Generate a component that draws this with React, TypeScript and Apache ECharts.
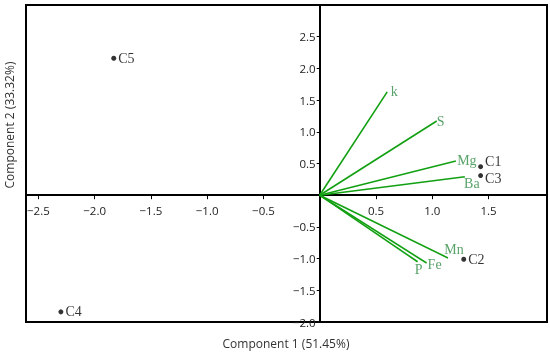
import React, { useEffect, useRef } from "react";
import * as echarts from "echarts";

const sampleNames = ["C1", "C2", "C3", "C4", "C5"];
const sampleX = [1.43, 1.28, 1.43, -2.3, -1.83];
const sampleY = [0.45, -1.01, 0.31, -1.84, 2.16];

const varNames = ["k", "S", "Mg", "Ba", "Mn", "Fe", "P"];
const varX = [0.6, 1.04, 1.21, 1.29, 1.14, 0.95, 0.87];
const varY = [1.63, 1.17, 0.54, 0.29, -0.99, -1.07, -1.05];

const xTickValues = [-2.5, -2.0, -1.5, -1.0, -0.5, 0.5, 1.0, 1.5];

const xName = "Component 1 (51.45%)";
const yName = "Component 2 (33.32%)";

const X_MIN = -2.61;
const X_MAX = 2.02;
const Y_MIN = -2;
const Y_MAX = 3;

// layout (style only)
const GRID = { left: 26, right: 3, top: 5, bottom: 33 };
const W = 550;
const H = 355;

const varLabelOffset: Record<string, number[]> = {
  k: [7, 0],
  S: [4, 0],
  Mg: [11, 0],
  Ba: [7, 7],
  Mn: [6, -8],
  Fe: [8, 1],
  P: [1, 8],
};
const sampleLabelOffset: Record<string, number[]> = {
  C1: [0, -5],
  C2: [0, 0],
  C3: [0, 3],
  C4: [0, 0],
  C5: [0, 0],
};

const fmt = (v: number) => {
  const s = Math.abs(v).toFixed(1);
  return v < 0 ? "\u2212" + s : s;
};

export default function App() {
  const ref = useRef<HTMLDivElement>(null);
  useEffect(() => {
    if (!ref.current) return;
    const chart = echarts.init(ref.current, null, { renderer: "svg" });
    const lineColor = "#12a012";
    const labelGreen = "#2f8c45";
    const gw = W - GRID.left - GRID.right;
    const gh = H - GRID.top - GRID.bottom;
    const xAxisOffset = -(gh * (0 - Y_MIN)) / (Y_MAX - Y_MIN);
    const yAxisOffset = -(gw * (0 - X_MIN)) / (X_MAX - X_MIN);
    const vectorSeries = varNames.map((n, i) => ({
      type: "line",
      name: n,
      data: [
        [0, 0],
        [varX[i], varY[i]],
      ],
      symbol: "none",
      lineStyle: { color: lineColor, width: 1.6 },
      z: 3,
    }));
    chart.setOption({
      animation: false,
      grid: {
        ...GRID,
        show: true,
        borderColor: "#000",
        borderWidth: 2,
        backgroundColor: "transparent",
      },
      xAxis: {
        type: "value",
        min: X_MIN,
        max: X_MAX,
        position: "bottom",
        offset: xAxisOffset,
        axisLine: { onZero: false, lineStyle: { color: "#000", width: 2 } },
        axisTick: {
          customValues: xTickValues,
          length: 4,
          lineStyle: { color: "#000", width: 1 },
        },
        axisLabel: {
          customValues: xTickValues,
          formatter: (v: number) => fmt(v),
          margin: 9,
          color: "#222",
          fontFamily: "Open Sans",
          fontSize: 11.5,
        },
        splitLine: { show: false },
      },
      yAxis: {
        type: "value",
        min: Y_MIN,
        max: Y_MAX,
        interval: 0.5,
        position: "left",
        offset: yAxisOffset,
        axisLine: { onZero: false, lineStyle: { color: "#000", width: 2 } },
        axisTick: { length: 3, lineStyle: { color: "#000", width: 1 } },
        axisLabel: {
          formatter: (v: number) =>
            Math.abs(v) < 1e-9 || Math.abs(v - 3) < 1e-9 ? "" : fmt(v),
          margin: 4,
          color: "#222",
          fontFamily: "Open Sans",
          fontSize: 11.5,
        },
        splitLine: { show: false },
      },
      series: [
        ...vectorSeries,
        {
          type: "scatter",
          name: "varLabels",
          symbolSize: 0,
          data: varNames.map((n, i) => ({
            value: [varX[i], varY[i]],
            name: n,
            label: {
              show: true,
              position: "inside",
              offset: varLabelOffset[n],
              formatter: n,
              color: labelGreen,
              fontFamily: "Liberation Serif",
              fontSize: 14,
            },
          })),
          z: 4,
        },
        {
          type: "scatter",
          name: "samples",
          symbol: "circle",
          symbolSize: 5,
          itemStyle: { color: "#000" },
          data: sampleNames.map((n, i) => ({
            value: [sampleX[i], sampleY[i]],
            name: n,
            label: {
              show: true,
              position: "right",
              distance: 2,
              offset: sampleLabelOffset[n],
              formatter: n,
              color: "#000",
              fontFamily: "Liberation Serif",
              fontSize: 14,
            },
          })),
          z: 5,
        },
      ],
      graphic: [
        {
          type: "text",
          x: 286,
          y: 343,
          style: {
            text: xName,
            fill: "#333",
            font: "12px 'Open Sans'",
            align: "center",
            verticalAlign: "middle",
          },
        },
        {
          type: "text",
          x: 9,
          y: 125,
          rotation: Math.PI / 2,
          style: {
            text: yName,
            fill: "#333",
            font: "12px 'Open Sans'",
            align: "center",
            verticalAlign: "middle",
          },
        },
      ],
    });
    return () => chart.dispose();
  }, []);
  return (
    <div
      ref={ref}
      style={{ position: "fixed", left: 0, top: 0, width: W, height: H }}
    />
  );
}
